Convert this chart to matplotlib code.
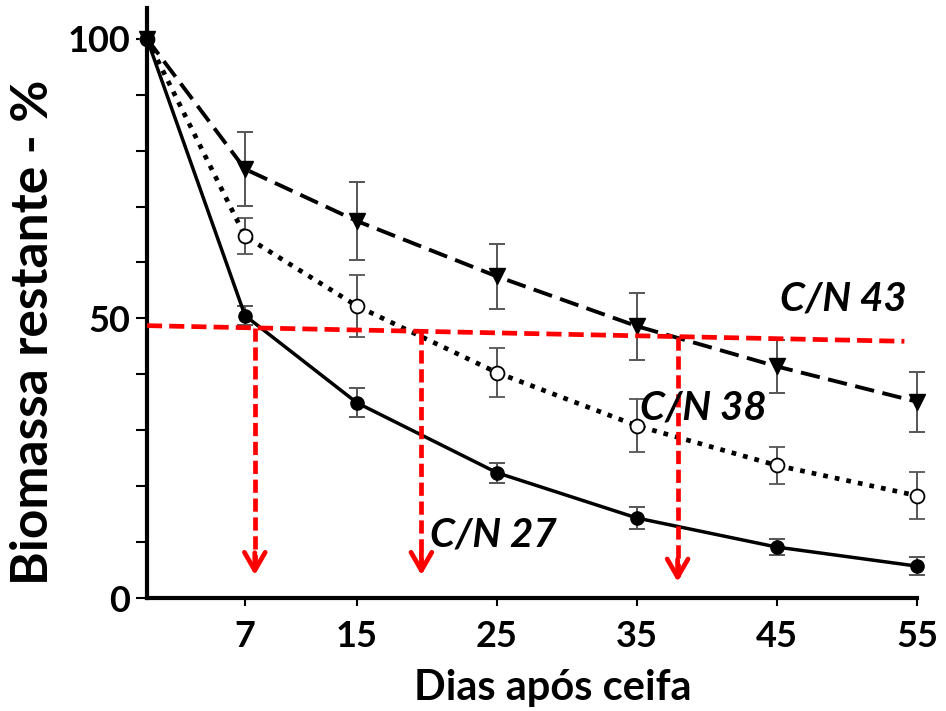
import matplotlib
matplotlib.use('Agg')
import matplotlib.pyplot as plt
from matplotlib.ticker import FixedLocator, MultipleLocator

# ---- data ----
days = [0, 7, 15, 25, 35, 45, 55]
cn27 = [100, 50.5, 34.9, 22.4, 14.3, 9.1, 5.7]
cn27_err = [0, 1.7, 2.6, 1.8, 2.0, 1.5, 1.6]
cn38 = [100, 64.7, 52.2, 40.3, 30.8, 23.7, 18.3]
cn38_err = [0, 3.2, 5.6, 4.4, 4.7, 3.3, 4.2]
cn43 = [100, 76.7, 67.4, 57.5, 48.6, 41.4, 35.1]
cn43_err = [0, 6.6, 7.0, 5.8, 6.0, 4.7, 5.4]

half_x = [0, 54.1]
half_y = [48.7, 45.9]
arrow_x = [7.7, 19.6, 37.9]
arrow_top = [48.3, 47.7, 46.7]
arrow_tip = [4.1, 4.1, 2.9]

labels = ["C/N 43", "C/N 38", "C/N 27"]
label_x = [45.2, 35.2, 20.2]
label_y = [53.4, 34.0, 11.3]

x_ticks = [7, 15, 25, 35, 45, 55]
y_ticks = [0, 50, 100]

FONT = ['Lato', 'DejaVu Sans']
plt.rcParams['font.family'] = FONT

fig = plt.figure(figsize=(9.46, 7.11), dpi=100)
ax = fig.add_axes([147/946, 113/711, 770/946, 590/711])

ebc = '#555555'
common_err = dict(ecolor=ebc, elinewidth=1.4, capsize=6, capthick=1.4, clip_on=False, zorder=3)

ax.errorbar(days, cn43, yerr=cn43_err, color='black', lw=2.8, ls=(0, (5, 2.2)),
            marker='v', ms=11, mfc='black', mec='black', **common_err)
ax.errorbar(days, cn38, yerr=cn38_err, color='black', lw=3.4, ls=(0, (1, 1.5)),
            marker='o', ms=10, mfc='white', mec='black', mew=1.3, **common_err)
ax.errorbar(days, cn27, yerr=cn27_err, color='black', lw=2.5, ls='-',
            marker='o', ms=9.5, mfc='black', mec='black', **common_err)

red = '#ff0000'
ax.plot(half_x, half_y, color=red, lw=3.4, ls=(0, (3.2, 1.5)), zorder=5, clip_on=False)
for x, top, tip in zip(arrow_x, arrow_top, arrow_tip):
    ax.plot([x, x], [top, tip + 0.5], color=red, lw=3.4, ls=(0, (2.8, 1.2)), zorder=5)
    ax.annotate('', xy=(x, tip), xytext=(x, tip + 4.0),
                arrowprops=dict(arrowstyle='->,head_length=1.3,head_width=0.75',
                                color=red, lw=3.4, shrinkA=0, shrinkB=0), zorder=6)

for t, x, y in zip(labels, label_x, label_y):
    ax.text(x, y, t, fontsize=29, fontweight='bold', fontstyle='italic',
            va='center', ha='left', color='black', zorder=7)

ax.set_xlim(0, 55)
ax.set_ylim(0, 105.5)
ax.xaxis.set_major_locator(FixedLocator(x_ticks))
ax.yaxis.set_major_locator(FixedLocator(y_ticks))
ax.yaxis.set_minor_locator(MultipleLocator(10))
ax.set_xticklabels([str(v) for v in x_ticks])
ax.set_yticklabels([str(v) for v in y_ticks])

for s in ['top', 'right']:
    ax.spines[s].set_visible(False)
for s in ['left', 'bottom']:
    ax.spines[s].set_linewidth(3)

ax.tick_params(axis='both', which='major', labelsize=26, width=1.5, length=6, direction='out', pad=10)
ax.tick_params(axis='y', which='minor', width=1.5, length=8, direction='out')
ax.tick_params(axis='y', which='major', length=8, pad=4)
for lbl in ax.get_xticklabels() + ax.get_yticklabels():
    lbl.set_fontweight('bold')

fig.text(553/946, 1 - 700/711, 'Dias após ceifa', fontsize=30, fontweight='bold',
         ha='center', va='baseline')
fig.text(34/946, 1 - 332/711, 'Biomassa restante - %', fontsize=37, fontweight='bold',
         ha='center', va='center', rotation=90)

fig.savefig('out.png', dpi=100)
